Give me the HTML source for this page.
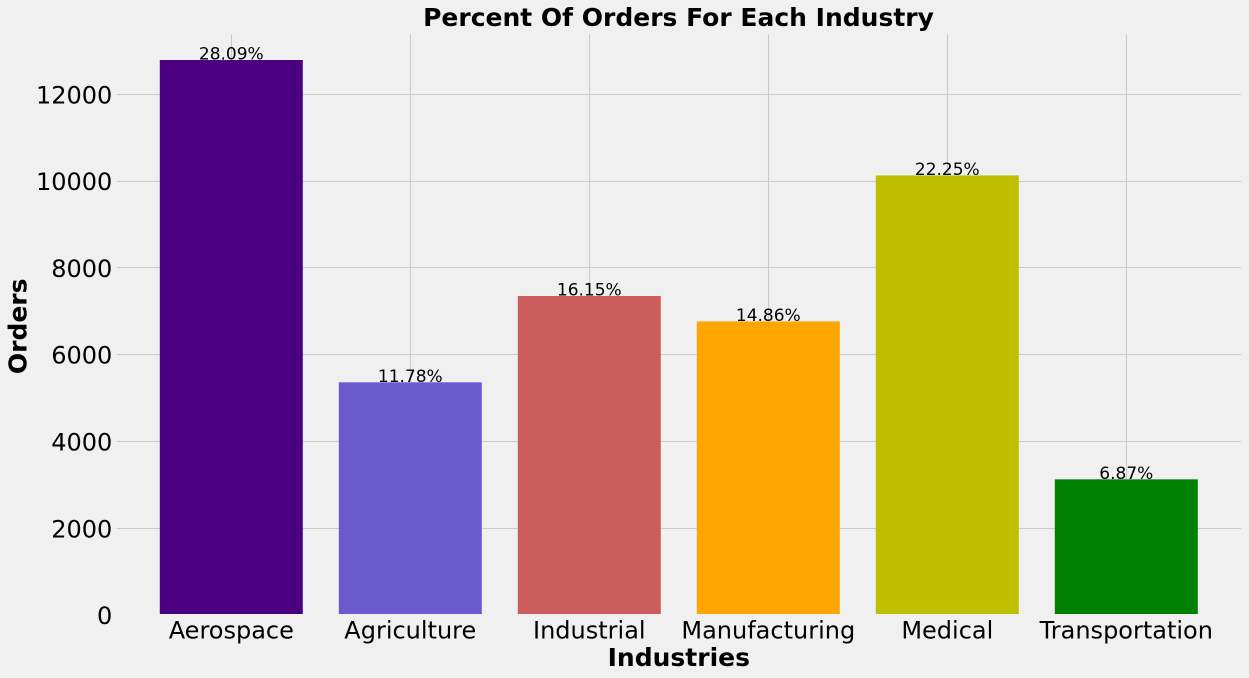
<!DOCTYPE html>
<html lang="en">
<head>
<meta charset="utf-8">
<title>Percent Of Orders For Each Industry</title>
<style>
html,body{margin:0;padding:0;background:#f0f0f0;width:1249px;height:678px;overflow:hidden}
svg{display:block;font-family:"DejaVu Sans","Liberation Sans",sans-serif}
</style>
</head>
<body>
<svg id="chart" xmlns="http://www.w3.org/2000/svg" width="1249" height="678" viewBox="0 0 1249 678">
<rect x="0" y="0" width="1249" height="678" fill="#f0f0f0"/>
<g id="grid"></g>
<g id="bars"></g>
<g id="values"></g>
<g id="yticks"></g>
<g id="xticks"></g>
<text x="678.5" y="26" text-anchor="middle" font-size="25" font-weight="700" fill="#000">Percent Of Orders For Each Industry</text>
<text x="678.8" y="666" text-anchor="middle" font-size="25" font-weight="700" fill="#000">Industries</text>
<text transform="translate(26.5 326.3) rotate(-90)" text-anchor="middle" font-size="25" font-weight="700" fill="#000">Orders</text>
</svg>
<script>
const categories = ['Aerospace', 'Agriculture', 'Industrial', 'Manufacturing', 'Medical', 'Transportation'];
const orders = [12790, 5364, 7353, 6766, 10131, 3128];
const percentLabels = ['28.09%', '11.78%', '16.15%', '14.86%', '22.25%', '6.87%'];
const yTickValues = [0, 2000, 4000, 6000, 8000, 10000, 12000];
const barColors = ['#4b0082', '#6a5acd', '#cd5c5c', '#ffa500', '#bfbf00', '#008000'];

const NS = 'http://www.w3.org/2000/svg';
const plot = { left: 117, right: 1241, top: 34, bottom: 614 };
const yScale = function (v) { return 615.1 - v * 0.0434; };
const xCenter = function (i) { return 231.3 + i * 179; };
const barWidth = 143;
const snap = function (p) { return Math.floor(p) + 0.5; };

function make(tag, attrs, parent, text) {
  const el = document.createElementNS(NS, tag);
  for (const k in attrs) el.setAttribute(k, attrs[k]);
  if (text !== undefined) el.textContent = text;
  parent.appendChild(el);
  return el;
}

const gridG = document.getElementById('grid');
const barsG = document.getElementById('bars');
const valuesG = document.getElementById('values');
const yG = document.getElementById('yticks');
const xG = document.getElementById('xticks');

yTickValues.forEach(function (t) {
  const y = yScale(t);
  if (t > 0) {
    const line = make('line', { x1: plot.left, x2: plot.right, y1: snap(y), y2: snap(y), stroke: '#cbcbcb', 'stroke-width': 1.1 }, gridG);
    
    
  }
  const label = make('text', { x: 112.3, y: y + 9, 'text-anchor': 'end', 'font-size': 24, fill: '#000' }, yG, String(t));
  
  
});

categories.forEach(function (c, i) {
  const cx = xCenter(i);
  const line = make('line', { x1: snap(cx), x2: snap(cx), y1: plot.top, y2: plot.bottom, stroke: '#cbcbcb', 'stroke-width': 1.1 }, gridG);
  
  

  const top = yScale(orders[i]);
  const bar = make('rect', { x: cx - barWidth / 2, y: top, width: barWidth, height: plot.bottom - top, fill: barColors[i] }, barsG);
  
  

  const value = make('text', { x: cx, y: top - 0.3, 'text-anchor': 'middle', 'font-size': 17, fill: '#000' }, valuesG, percentLabels[i]);
  
  

  const tick = make('text', { x: cx, y: 638.3, 'text-anchor': 'middle', 'font-size': 24, fill: '#000' }, xG, c);
  
  
});
</script>
</body>
</html>
